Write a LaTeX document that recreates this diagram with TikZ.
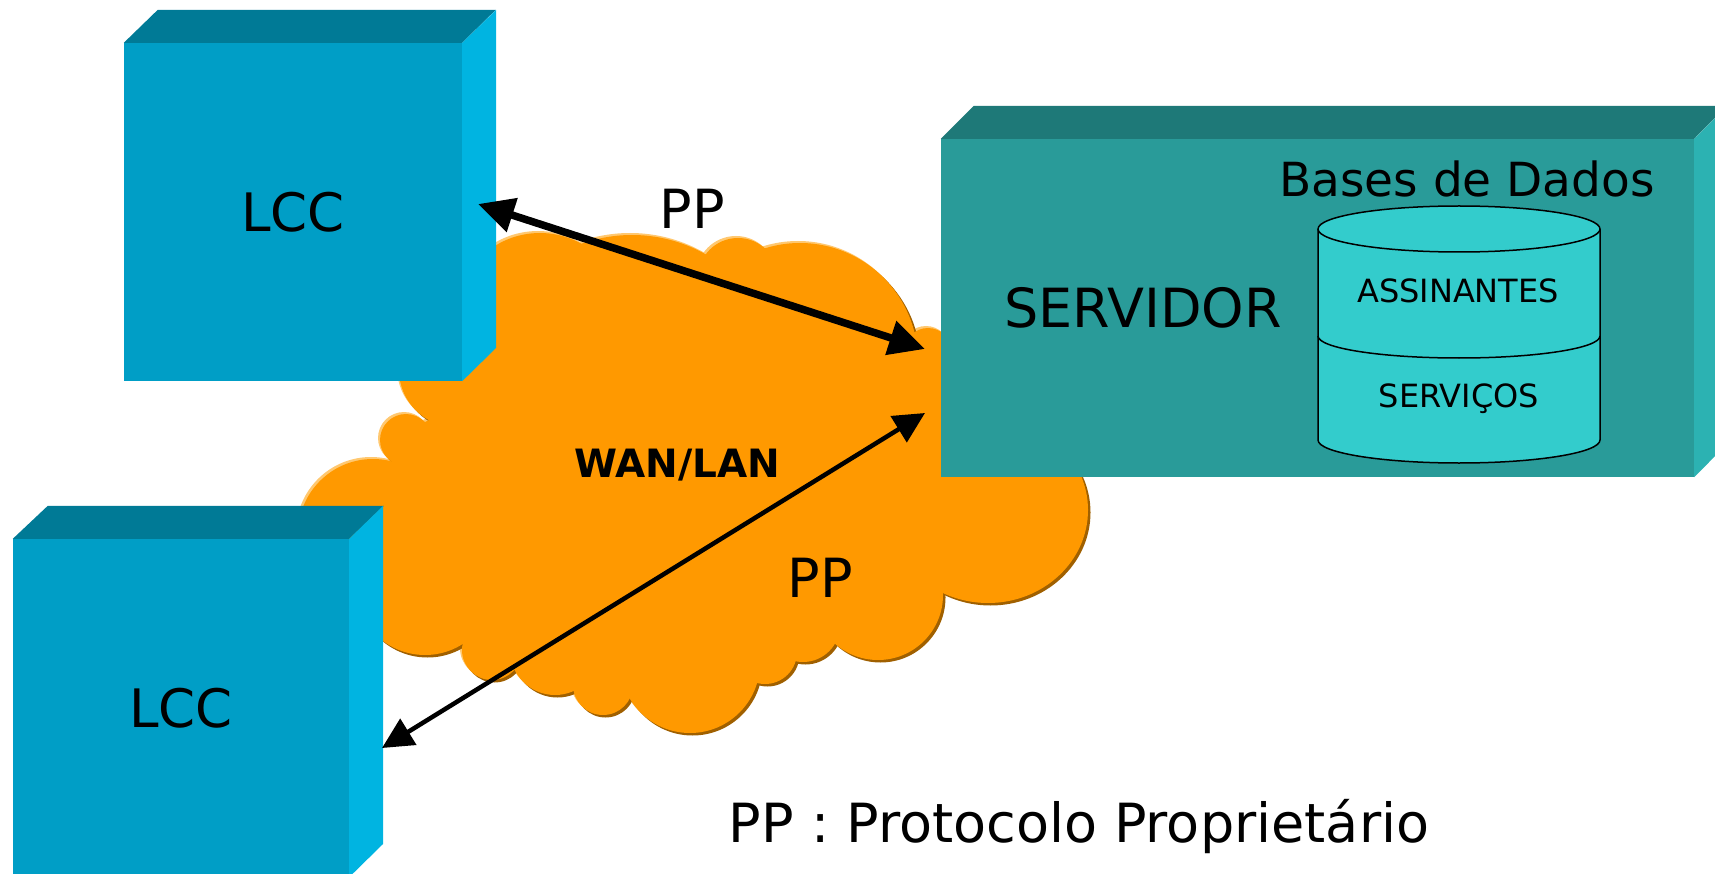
\documentclass[tikz,border=0pt]{standalone}
\usepackage{fontspec}
\setmainfont{DejaVu Sans}
\usetikzlibrary{arrows.meta}

\definecolor{lccFace}{HTML}{009EC6}
\definecolor{lccTop}{HTML}{007A96}
\definecolor{lccSide}{HTML}{00B4E1}
\definecolor{srvFace}{HTML}{299B99}
\definecolor{srvTop}{HTML}{1E7978}
\definecolor{srvSide}{HTML}{2CB2B2}
\definecolor{dbFill}{HTML}{33CCCC}
\definecolor{wanFill}{HTML}{FF9900}
\definecolor{wanDark}{HTML}{A06000}
\definecolor{wanLight}{HTML}{FFC870}

\begin{document}
\begin{tikzpicture}[x=1pt, y=-1pt]
\tikzstyle{bigText}=[font=\fontsize{54}{60}\selectfont]
\tikzstyle{dbText}=[font=\fontsize{32}{36}\selectfont]
\tikzstyle{wanText}=[font=\bfseries\fontsize{39}{42}\selectfont]
\tikzstyle{lccBox}=[fill=lccFace, minimum width=338pt, minimum height=338pt, inner sep=0pt, font=\fontsize{53}{60}\selectfont]
\tikzstyle{srvBox}=[fill=srvFace, minimum width=753pt, minimum height=338pt, inner sep=0pt]
\tikzstyle{dbStyle}=[fill=dbFill, draw=black, line width=1.5pt]
\tikzstyle{ppThick}=[line width=7.5pt, {Triangle[length=36pt,width=34pt]}-{Triangle[length=36pt,width=34pt]}]
\tikzstyle{ppThin}=[line width=4.5pt, {Triangle[length=31pt,width=30pt]}-{Triangle[length=31pt,width=30pt]}]
\useasboundingbox (0,0) rectangle (1715,874);
\clip (0,0) rectangle (1715,874);

% cloud WAN/LAN
\def\cloudlobes{540/318/85/85, 632/385/150/150, 738/278/40/40, 800/361/118/118,
  928/352/24/24, 930/400/45/45, 900/430/55/55, 988/510/100/93, 878/595/65/65,
  803/625/37/37, 765/652/32/32, 690/663/70/70, 603/685/30/30, 555/650/45/45,
  492/650/30/30, 425/585/70/70, 373/534/75/75, 406/440/26/26, 456/370/57/57,
  452/470/55/55, 895/505/50/50, 660/470/230/180, 640/560/200/130}
\foreach \cx/\cy/\rx/\ry in \cloudlobes
  \fill[wanLight] (\cx-2,\cy-2) ellipse [x radius=\rx, y radius=\ry];
\foreach \cx/\cy/\rx/\ry in \cloudlobes
  \fill[wanDark] (\cx+2.5,\cy+2.5) ellipse [x radius=\rx, y radius=\ry];
\foreach \cx/\cy/\rx/\ry in \cloudlobes
  \fill[wanFill] (\cx,\cy) ellipse [x radius=\rx, y radius=\ry];

% LCC boxes
\node[lccBox] (lccA) at (293,212) {LCC};
\fill[lccTop] (lccA.north west) -- ++(34,-33) -- ++(338,0) -- (lccA.north east) -- cycle;
\fill[lccSide] (lccA.north east) -- ++(34,-33) -- ++(0,338) -- (lccA.south east) -- cycle;

\node[lccBox, minimum width=336pt] (lccB) at (181,708) {LCC};
\fill[lccTop] (lccB.north west) -- ++(35,-33) -- ++(336,0) -- (lccB.north east) -- cycle;
\fill[lccSide] (lccB.north east) -- ++(34,-33) -- ++(0,338) -- (lccB.south east) -- cycle;

% servidor
\node[srvBox] (srv) at (1317.5,308) {};
\fill[srvTop] (srv.north west) -- ++(33,-33) -- ++(753,0) -- (srv.north east) -- cycle;
\fill[srvSide] (srv.north east) -- ++(33,-33) -- ++(0,338) -- (srv.south east) -- cycle;
\node[bigText, anchor=base] (srvName) at (1143,327) {SERVIDOR};
\node[anchor=base, font=\fontsize{47}{52}\selectfont] (dbTitle) at (1467,197) {Bases de Dados};

% bases de dados
\filldraw[dbStyle] (1318,229) -- (1318,440) arc[start angle=180, end angle=0, x radius=141, y radius=23]
  -- (1600,229) arc[start angle=0, end angle=-180, x radius=141, y radius=23] -- cycle;
\draw[dbStyle, fill=none] (1318,229) arc[start angle=180, end angle=0, x radius=141, y radius=23];
\draw[dbStyle, fill=none] (1318,336) arc[start angle=180, end angle=0, x radius=141, y radius=22];
\node[dbText, anchor=base] (dbAssin) at (1458,303) {ASSINANTES};
\node[dbText, anchor=base] (dbServ) at (1459,407) {SERVIÇOS};

% ligacoes PP
\coordinate (lccA-pp) at (478,204);
\coordinate (srv-ppA) at (925,349);
\coordinate (srv-ppB) at (925,413);
\coordinate (lccB-pp) at (382,748);
\draw[ppThick] (lccA-pp) -- (srv-ppA);
\draw[ppThin] (srv-ppB) -- (lccB-pp);

\node[wanText, anchor=base] (wan) at (677,477) {WAN/LAN};
\node[bigText, anchor=base] (ppA) at (692,229) {PP};
\node[bigText, anchor=base] (ppB) at (820,597) {PP};
\node[bigText, anchor=base] (legend) at (1079,842) {PP : Protocolo Proprietário};
\end{tikzpicture}
\end{document}
